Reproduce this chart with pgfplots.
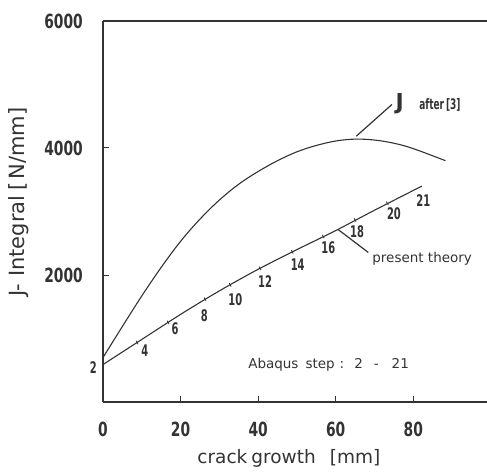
\documentclass[border=0pt]{standalone}
\usepackage{pgfplots}
\pgfplotsset{compat=1.18}
\usepackage{fontspec}
\setmainfont{DejaVu Sans}
\newfontfamily\numfont[FakeStretch=0.71]{DejaVu Sans}
\newfontfamily\stepfont[FakeStretch=0.62]{DejaVu Sans}
\definecolor{ink}{gray}{0.2}
\begin{document}
\begin{tikzpicture}
\path[use as bounding box] (-103pt,-69pt) rectangle (384pt,402pt);
\begin{axis}[
  at={(0pt,0pt)}, anchor=south west,
  scale only axis, width=384pt, height=381pt,
  xmin=0, xmax=99, ymin=0, ymax=6000,
  axis x line*=box, axis y line*=left,
  axis line style={ink, line width=1.2pt},
  clip=false,
  tick pos=left,
  tick align=inside,
  major tick length=6pt,
  tick style={ink, line width=1pt},
  xtick={0,20,40,60,80},
  ytick={2000,4000,6000},
  /pgf/number format/assume math mode=true,
  /pgf/number format/1000 sep={},
  ticklabel style={font=\numfont\bfseries\fontsize{19.5}{22}\selectfont, text=ink},
  yticklabel style={inner sep=0pt, anchor=east, xshift=-20pt},
  xticklabel style={inner sep=0pt, anchor=north, yshift=-20pt},
  xlabel={crack\hspace{4pt}growth\hspace{14pt}[mm]},
  ylabel={J- Integral\hspace{5pt}[\hspace{3pt}N/mm]},
  xlabel style={font=\fontsize{18.5}{22}\selectfont, text=ink, at={(axis description cs:0.484,-0.148)}, anchor=center},
  ylabel style={font=\fontsize{21}{24}\selectfont, text=ink, at={(axis description cs:-0.219,0.525)}, anchor=center, rotate=0},
]
% J after [3]
\addplot[ink, line width=1.1pt, smooth, tension=0.6] coordinates {
 (0,700) (5,1190) (10,1670) (15,2120) (20,2530) (25,2880) (30,3180) (35,3430)
 (40,3630) (45,3800) (50,3940) (55,4040) (60,4110) (65,4140) (70,4125)
 (75,4075) (80,3990) (88.3,3800)
};
% present theory
\addplot[ink, line width=1.1pt, smooth, tension=0.5] coordinates {
 (0,590) (10,985) (20,1380) (30,1750) (40,2090) (50,2400) (60,2700) (70,3020) (82.2,3400)
};
% step ticks on present theory
\addplot[only marks, mark=|, mark size=2pt, ink, line width=0.8pt,
  every mark/.append style={rotate=28}] coordinates {
 (8.8,937) (16.8,1253) (26.3,1620) (32.8,1845) (40.5,2105) (48.8,2365) (56.8,2605) (65,2865) (73.3,3130)
};
% step labels
\begin{scope}[every node/.style={font=\stepfont\bfseries\fontsize{16}{18}\selectfont, text=ink, inner sep=0pt, anchor=center}]
\node at (axis cs:-2.5,543) {2};
\node at (axis cs:10.8,811) {4};
\node at (axis cs:18.6,1158) {6};
\node at (axis cs:26.1,1362) {8};
\node at (axis cs:34.1,1614) {10};
\node at (axis cs:41.8,1903) {12};
\node at (axis cs:50.2,2166) {14};
\node at (axis cs:58.1,2433) {16};
\node at (axis cs:65.5,2685) {18};
\node at (axis cs:75.0,2969) {20};
\node at (axis cs:82.6,3174) {21};
\end{scope}
% annotations
\draw[ink, line width=1.2pt] (axis cs:65.3,4186) -- (axis cs:74.5,4686);
\node[anchor=base west, inner sep=0pt, text=ink, font=\bfseries\fontsize{22}{26}\selectfont] at (axis cs:75.4,4607) {J};
\node[anchor=base west, inner sep=0pt, text=ink, font=\bfseries\stepfont\fontsize{14.5}{17}\selectfont] at (axis cs:81.5,4607) {after\hspace{2pt}[3]};
\draw[ink, line width=1.2pt] (axis cs:60.6,2717) -- (axis cs:68.4,2355);
\node[anchor=base west, inner sep=0pt, text=ink, font=\fontsize{13.5}{16}\selectfont] at (axis cs:69.4,2197) {present theory};
\node[anchor=base west, inner sep=0pt, text=ink, font=\fontsize{13.5}{16}\selectfont] at (axis cs:37.4,528) {Abaqus\hspace{7pt}step\hspace{5pt}:\hspace{10pt}2\hspace{11pt}-\hspace{13pt}21};
\end{axis}
\end{tikzpicture}
\end{document}
